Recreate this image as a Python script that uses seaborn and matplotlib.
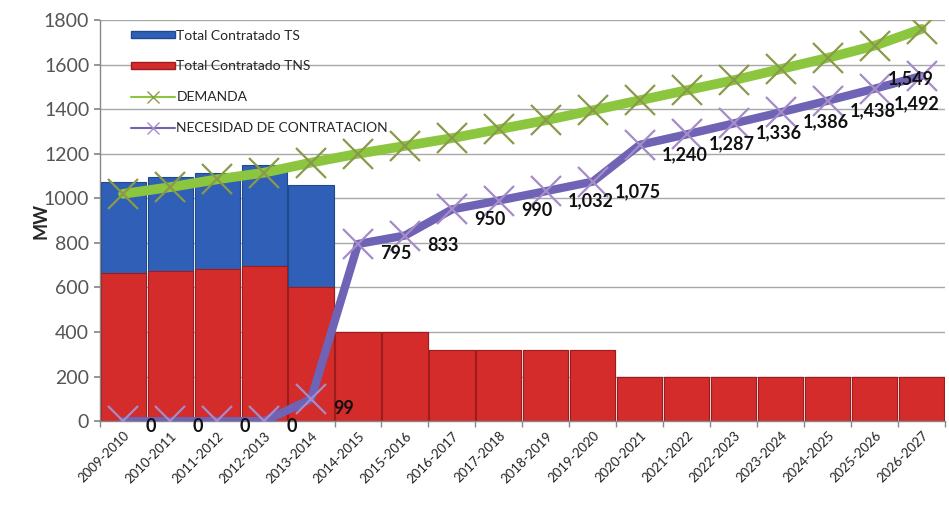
import numpy as np
import pandas as pd
import matplotlib
matplotlib.use("Agg")
import matplotlib.pyplot as plt
import seaborn as sns
from matplotlib.patches import Patch
from matplotlib.lines import Line2D

categories = ["2009-2010", "2010-2011", "2011-2012", "2012-2013", "2013-2014",
              "2014-2015", "2015-2016", "2016-2017", "2017-2018", "2018-2019",
              "2019-2020", "2020-2021", "2021-2022", "2022-2023", "2023-2024",
              "2024-2025", "2025-2026", "2026-2027"]
tns = [665, 672, 683, 695, 602, 400, 400, 320, 320, 320, 320,
       200, 200, 200, 200, 200, 200, 200]
ts = [410, 423, 430, 455, 458, 0, 0, 0, 0, 0, 0,
      0, 0, 0, 0, 0, 0, 0]
demanda = [1020, 1050, 1085, 1115, 1160, 1200, 1235, 1270, 1310, 1350,
           1395, 1440, 1485, 1530, 1580, 1630, 1685, 1760]
necesidad = [0, 0, 0, 0, 99, 795, 833, 950, 990, 1032, 1075,
             1240, 1287, 1336, 1386, 1438, 1492, 1549]
need_labels = ["0", "0", "0", "0", "99", "795", "833", "950", "990", "1,032",
               "1,075", "1,240", "1,287", "1,336", "1,386", "1,438", "1,492", "1,549"]

sns.set_theme(style="white")
plt.rcParams["font.family"] = ["Lato", "DejaVu Sans"]

fig = plt.figure(figsize=(9.49, 5.13), dpi=100)
ax = fig.add_axes([0.105, 0.179, 0.891, 0.782])

total = [a + b for a, b in zip(tns, ts)]
df = pd.DataFrame({"cat": categories, "tns": tns, "total": total,
                   "demanda": demanda, "necesidad": necesidad,
                   "pos": np.arange(len(categories))})

sns.barplot(data=df, x="cat", y="total", color="#2f5fb6", saturation=1,
            width=0.96, edgecolor="#1f4a90", linewidth=0.8, ax=ax)
sns.barplot(data=df, x="cat", y="tns", color="#d42b2b", saturation=1,
            width=0.96, edgecolor="#9e1c1c", linewidth=0.8, ax=ax)

sns.lineplot(data=df, x="pos", y="demanda", color="#8cc63e", linewidth=7,
             marker="x", markersize=22, markeredgewidth=1.6,
             markeredgecolor="#8a9a4a", ax=ax, zorder=4)
sns.lineplot(data=df, x="pos", y="necesidad", color="#6e63b5", linewidth=6,
             marker="x", markersize=22, markeredgewidth=1.6,
             markeredgecolor="#a58bc8", ax=ax, zorder=5)

n = len(categories)
for i, (v, lab) in enumerate(zip(necesidad, need_labels)):
    if i == n - 1:
        off, ha = (-8, -2), "center"
    elif i == n - 2:
        off, ha = (14, -11), "left"
    elif v == 0:
        off, ha = (16, -4), "left"
    else:
        off, ha = (16, -7), "left"
    ax.annotate(lab, (i, v), xytext=off, textcoords="offset points",
                ha=ha, va="center", fontsize=13, fontweight="bold",
                color="#111111", zorder=6)

ax.set_xlim(-0.5, n - 0.5)
ax.set_ylim(0, 1800)
ax.set_yticks(np.arange(0, 1801, 200))
ax.yaxis.grid(True, color="#a8a8a8", linewidth=1)
ax.set_axisbelow(True)
ax.set_xticks(np.arange(n))
ax.set_xticks(np.arange(n + 1) - 0.5, minor=True)
ax.set_xticklabels(categories, rotation=45, ha="right", rotation_mode="anchor",
                   fontsize=9.5, color="#222222")
ax.tick_params(axis="y", labelsize=14, labelcolor="#555555", length=4,
               color="#888888", left=True)
ax.tick_params(axis="x", which="major", length=0, pad=6)
ax.tick_params(axis="x", which="minor", length=4, color="#888888", bottom=True)
ax.set_xlabel("")
ax.set_ylabel("MW", fontsize=13, fontweight="bold", labelpad=-4)
for s in ["top", "right"]:
    ax.spines[s].set_visible(False)
for s in ["left", "bottom"]:
    ax.spines[s].set_color("#888888")
    ax.spines[s].set_linewidth(1)

handles = [
    Patch(facecolor="#2f5fb6", edgecolor="#1f4a90", label="Total Contratado TS"),
    Patch(facecolor="#d42b2b", edgecolor="#9e1c1c", label="Total Contratado TNS"),
    Line2D([], [], color="#8cc63e", marker="x", markersize=8,
           markeredgecolor="#8a9a4a", linewidth=1.5, label="DEMANDA"),
    Line2D([], [], color="#6e63b5", marker="x", markersize=8,
           markeredgecolor="#a58bc8", linewidth=1.5, label="NECESIDAD DE CONTRATACION"),
]
ax.legend(handles=handles, loc="upper left", bbox_to_anchor=(0.025, 1.0),
          frameon=False, fontsize=10, labelspacing=1.35, handlelength=3.2,
          handleheight=0.35, handletextpad=0.1, borderaxespad=0.3)

fig.savefig("out.png", dpi=100)
